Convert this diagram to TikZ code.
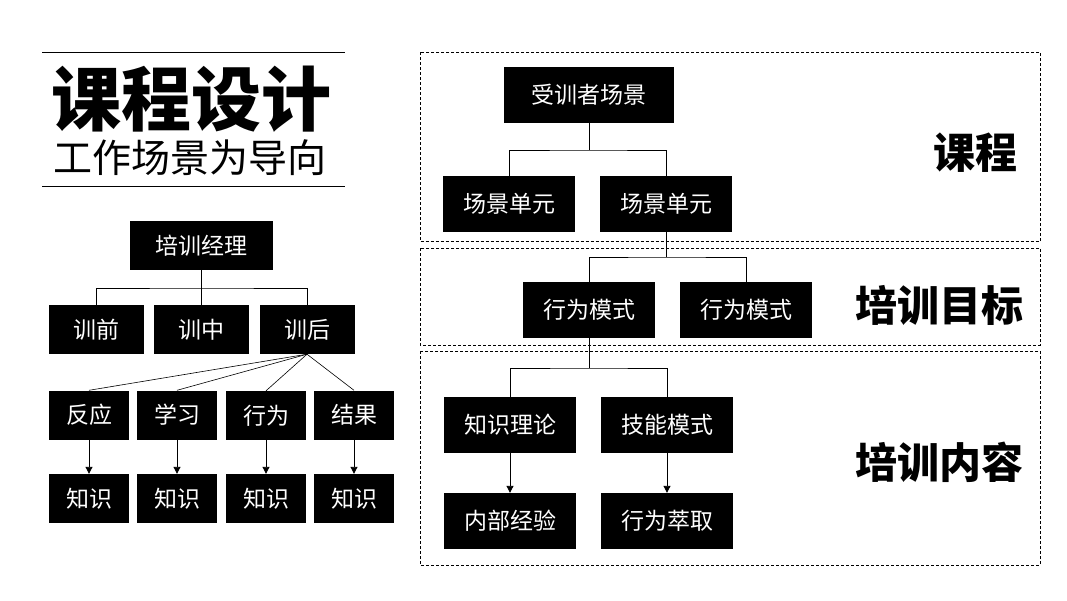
\documentclass[tikz,border=0pt]{standalone}
\usepackage{fontspec}
\newfontfamily\cjk{Noto Sans CJK SC}
\usetikzlibrary{arrows.meta}
\begin{document}
\begin{tikzpicture}[x=1pt,y=-1pt,
  box/.style={fill=black,text=white,inner sep=0pt,font=\cjk\fontsize{23}{23}\selectfont},
  lbox/.style={box,minimum width=95pt,minimum height=49pt},
  sbox/.style={box,minimum width=80pt,minimum height=49pt},
  rbox/.style={box,minimum width=132pt,minimum height=56pt},
  conn/.style={line width=0.9pt},
  arr/.style={line width=0.9pt,-{Triangle[length=7pt,width=7pt]}},
  zone/.style={draw,dashed,line width=0.7pt,dash pattern=on 3pt off 2pt},
  big/.style={font=\cjk\bfseries\fontsize{42}{42}\selectfont,anchor=east,inner sep=0pt}]
\useasboundingbox (0,0) rectangle (1067,600);
% title
\draw[line width=1pt] (42,52.5) -- (345,52.5);
\draw[line width=1pt] (42,186) -- (345,186);
\node[font=\cjk\bfseries\fontsize{70}{70}\selectfont,inner sep=0pt] (title) at (191,99) {课程设计};
\node[font=\cjk\fontsize{39}{39}\selectfont,inner sep=0pt] (sub) at (190,158) {工作场景为导向};
% left tree
\node[box,minimum width=143pt,minimum height=49pt] (mgr) at (201.5,245.5) {培训经理};
\node[lbox] (b1) at (96.5,329.5) {训前};
\node[lbox] (b2) at (201.5,329.5) {训中};
\node[lbox] (b3) at (307,329.5) {训后};
\coordinate (j1) at (201.5,288);
\draw[conn] (mgr.south) -- (j1);
\draw[conn] (b1.north) |- (j1) -| (b3.north);
\draw[conn] (b2.north) -- (j1);
\node[sbox] (c1) at (89,415) {反应};
\node[sbox] (c2) at (177,415) {学习};
\node[sbox] (c3) at (266,415.5) {行为};
\node[sbox] (c4) at (354,415) {结果};
\foreach \c in {c1,c2,c3,c4} \draw[line width=0.6pt] (b3.south) -- (\c.north);
\node[sbox] (d1) at (89,498.5) {知识};
\node[sbox] (d2) at (177,498.5) {知识};
\node[sbox] (d3) at (266,498.5) {知识};
\node[sbox] (d4) at (354,498.5) {知识};
\draw[arr] (c1.south) -- (d1.north);
\draw[arr] (c2.south) -- (d2.north);
\draw[arr] (c3.south) -- (d3.north);
\draw[arr] (c4.south) -- (d4.north);
% right zones
\draw[zone] (420,52) rectangle (1040,241.5);
\draw[zone] (420,248) rectangle (1040,345);
\draw[zone] (420,351) rectangle (1040,565);
\node[big] (z1) at (1018,153) {课程};
\node[big] (z2) at (1024,305) {培训目标};
\node[big] (z3) at (1024,462) {培训内容};
% right tree
\node[box,minimum width=170pt,minimum height=56pt] (top) at (589,95) {受训者场景};
\node[rbox] (s1) at (509,204) {场景单元};
\node[rbox] (s2) at (666,204) {场景单元};
\coordinate (j2) at (589,150);
\draw[conn] (top.south) -- (j2);
\draw[conn] (s1.north) |- (j2) -| (s2.north);
\node[rbox] (m1) at (589,310) {行为模式};
\node[rbox] (m2) at (746,310) {行为模式};
\coordinate (j3) at (666,257);
\draw[conn] (s2.south) -- (j3);
\draw[conn] (m1.north) |- (j3) -| (m2.north);
\node[rbox] (k1) at (510,425) {知识理论};
\node[rbox] (k2) at (667,425) {技能模式};
\coordinate (j4) at (589,368);
\draw[conn] (m1.south) -- (j4);
\draw[conn] (k1.north) |- (j4) -| (k2.north);
\node[rbox] (e1) at (510,521) {内部经验};
\node[rbox] (e2) at (667,521) {行为萃取};
\draw[arr] (k1.south) -- (e1.north);
\draw[arr] (k2.south) -- (e2.north);
\end{tikzpicture}
\end{document}
